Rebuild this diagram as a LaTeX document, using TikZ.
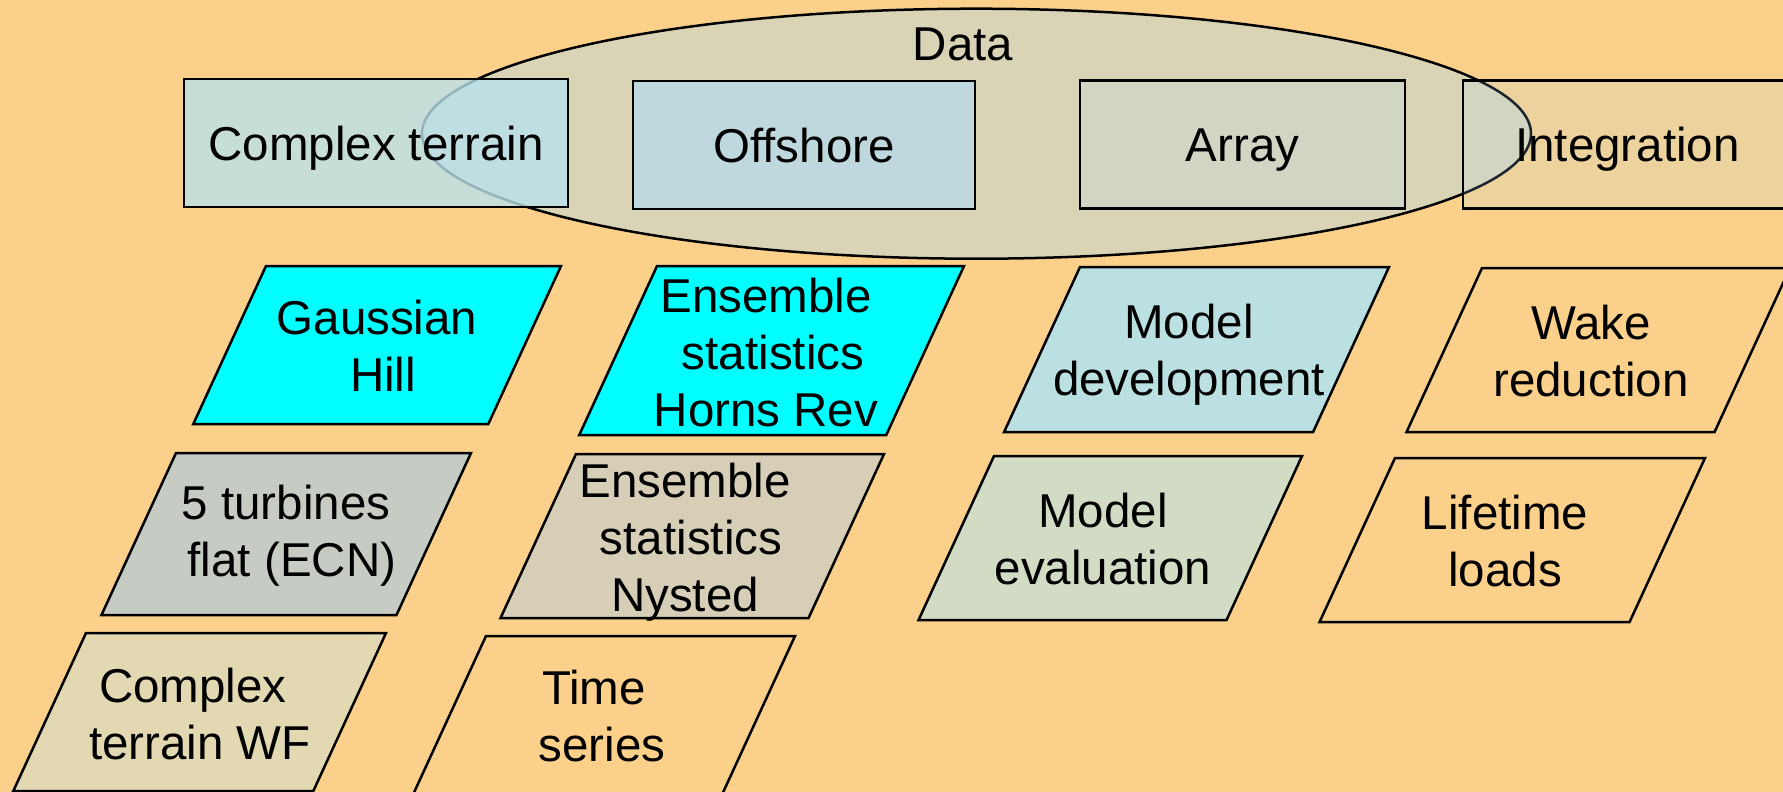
\documentclass[tikz,border=0pt]{standalone}
\usepackage{fontspec}
\setmainfont{Liberation Sans}
\usetikzlibrary{shapes.geometric}

\definecolor{bgpeach}{RGB}{250,208,138}
\definecolor{paleblue}{RGB}{168,220,255}
\definecolor{terrainblue}{RGB}{185,225,236}
\definecolor{brightcyan}{RGB}{0,255,255}
\definecolor{modeldevfill}{RGB}{186,224,226}
\definecolor{turbfill}{RGB}{198,204,196}
\definecolor{nystedfill}{RGB}{214,206,182}
\definecolor{evalfill}{RGB}{210,220,196}
\definecolor{ctwffill}{RGB}{226,216,178}

% slanted work-package box: name, top-left x, top y, bottom y, width, fill, label x, label y, label
\newcommand\slantbox[9]{%
  \draw[slanted, fill=#6] (#2,#3) -- ({#2+#5},#3) -- ({#2+#5-0.46*(#4-#3)},#4)
    -- ({#2-0.46*(#4-#3)},#4) -- cycle;
  \node[slanttext] (#1) at (#7,#8) {#9};}

\begin{document}
\begin{tikzpicture}[x=1pt,y=-1pt,
  every node/.style={font=\fontsize{47.5}{57}\selectfont, text depth=0pt},
  topbox/.style={draw=black, line width=2.5pt, fill=paleblue, text opacity=1,
    minimum height=128pt, inner sep=0pt, text height=34pt},
  dataring/.style={ellipse, draw=black, line width=2.5pt, fill=paleblue,
    fill opacity=0.38, minimum width=1109pt, minimum height=250pt, inner sep=0pt},
  slanted/.style={draw=black, line width=2.5pt, line join=miter},
  slanttext/.style={align=center, inner sep=0pt}]

% page background
\path[use as bounding box, fill=bgpeach] (0,0) rectangle (1783,792);
\clip (0,0) rectangle (1783,792);

% data ellipse spanning the top row
\node[dataring] (dataring) at (976.5,133.7) {};
\node (data) at (963,44.5) {Data};

% top row: research areas
\node[topbox, minimum width=384pt, fill=terrainblue, fill opacity=0.8] (cterrain) at (376,143) {Complex terrain};
\node[topbox, minimum width=342pt, fill opacity=0.55] (offshore) at (804,145) {Offshore};
\node[topbox, minimum width=325pt, fill opacity=0.20] (array) at (1242.5,144.3) {Array};
\node[topbox, minimum width=329pt, fill opacity=0.17] (integration) at (1627.5,144.5) {Integration};

% work packages
\slantbox{gauss}{266}{266}{424}{295}{brightcyan}{377}{345.3}{Gaussian\\\hspace*{12pt}Hill}
\slantbox{hornsrev}{657}{266}{435}{307}{brightcyan}{766}{351.8}{Ensemble\\\hspace*{14pt}statistics\\Horns Rev}
\slantbox{modeldev}{1080}{267}{432}{309}{modeldevfill}{1189}{349.3}{Model\\development}
\slantbox{wake}{1482}{268}{432}{308}{none}{1591}{351}{Wake\\reduction}
\slantbox{fiveturb}{176}{453}{615}{295}{turbfill}{286}{530.9}{5 turbines\\\hspace*{12pt}flat (ECN)}
\slantbox{nysted}{576}{454}{618}{308}{nystedfill}{685}{536.8}{Ensemble\\\hspace*{12pt}statistics\\Nysted}
\slantbox{modeleval}{994}{456}{620}{308}{evalfill}{1103}{538.3}{Model\\evaluation}
\slantbox{lifetime}{1395}{458}{622}{310}{none}{1505}{540.3}{Lifetime\\loads}
\slantbox{ctwf}{86}{633}{791}{300}{ctwffill}{193}{713.3}{Complex\\\hspace*{14pt}terrain WF}
\slantbox{timeser}{486}{636}{805}{309}{none}{594}{715.3}{Time\\\hspace*{16pt}series}
\end{tikzpicture}
\end{document}
